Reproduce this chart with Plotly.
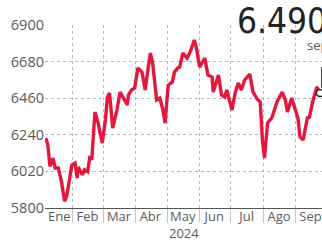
import plotly.graph_objects as go

dates = [
    "2024-01-06", "2024-01-08", "2024-01-10", "2024-01-13", "2024-01-15", "2024-01-18",
    "2024-01-21", "2024-01-24", "2024-01-26", "2024-01-29", "2024-01-31", "2024-02-03",
    "2024-02-05", "2024-02-06", "2024-02-10", "2024-02-12", "2024-02-15", "2024-02-17",
    "2024-02-19", "2024-02-22", "2024-02-25", "2024-02-29", "2024-03-03", "2024-03-05",
    "2024-03-07", "2024-03-10", "2024-03-14", "2024-03-17", "2024-03-20", "2024-03-24",
    "2024-03-25", "2024-03-28", "2024-03-31", "2024-04-03", "2024-04-07", "2024-04-10",
    "2024-04-13", "2024-04-15", "2024-04-17", "2024-04-21", "2024-04-24", "2024-04-27",
    "2024-04-29", "2024-05-02", "2024-05-06", "2024-05-08", "2024-05-11", "2024-05-13",
    "2024-05-16", "2024-05-20", "2024-05-23", "2024-05-27", "2024-05-29", "2024-06-01",
    "2024-06-06", "2024-06-09", "2024-06-13", "2024-06-14", "2024-06-19", "2024-06-22",
    "2024-06-25", "2024-06-27", "2024-06-30", "2024-07-02", "2024-07-05", "2024-07-08",
    "2024-07-11", "2024-07-14", "2024-07-19", "2024-07-22", "2024-07-26", "2024-07-29",
    "2024-07-31", "2024-08-02", "2024-08-05", "2024-08-09", "2024-08-14", "2024-08-19",
    "2024-08-22", "2024-08-24", "2024-08-28", "2024-08-31", "2024-09-03", "2024-09-05",
    "2024-09-08", "2024-09-12", "2024-09-14", "2024-09-17", "2024-09-21", "2024-09-24",
]
values = [
    6220, 6180, 6050, 6100, 6040, 6040,
    5960, 5840, 5870, 5990, 6058, 6070,
    5980, 6046, 6000, 6030, 6018, 6100,
    6090, 6377, 6311, 6190, 6329, 6467,
    6491, 6280, 6389, 6497, 6467, 6419,
    6479, 6509, 6521, 6641, 6617, 6509,
    6647, 6731, 6680, 6449, 6460, 6389,
    6311, 6539, 6557, 6617, 6641, 6647,
    6731, 6701, 6737, 6810, 6762, 6647,
    6701, 6599, 6587, 6497, 6599, 6479,
    6467, 6509, 6437, 6389, 6491, 6551,
    6509, 6569, 6605, 6500, 6455, 6437,
    6209, 6100, 6311, 6341, 6437, 6497,
    6449, 6377, 6461, 6401, 6341, 6227,
    6209, 6341, 6347, 6437, 6527, 6490.57,
]

y_ticks = [5800, 6020, 6240, 6460, 6680, 6900]
month_starts = ["2024-02-01", "2024-03-01", "2024-04-01", "2024-05-01", "2024-06-01",
                "2024-07-01", "2024-08-01", "2024-09-01"]
month_mids = ["2024-01-19", "2024-02-15", "2024-03-16", "2024-04-15", "2024-05-16",
              "2024-06-15", "2024-07-16", "2024-08-16", "2024-09-15"]
month_labels = ["Ene", "Feb", "Mar", "Abr", "May", "Jun", "Jul", "Ago", "Sep"]
last_value_text = "6.490,57"
last_date_text = "sep 24"
year_text = "2024"

RED = "#e3183d"
GRID = "#b8b8b8"
TXT = "#5a5a5a"

fig = go.Figure()
fig.add_trace(go.Scatter(
    x=dates, y=values, mode="lines",
    line=dict(color=RED, width=3.4, shape="linear"),
    hoverinfo="skip", showlegend=False,
))
fig.add_trace(go.Scatter(
    x=[dates[-1]], y=[values[-1]], mode="markers",
    marker=dict(size=7, color="white", line=dict(color="#222", width=1.5)),
    hoverinfo="skip", showlegend=False, cliponaxis=False,
))

fig.update_layout(
    width=322, height=241,
    margin=dict(l=45, r=0, t=25, b=33, autoexpand=False),
    paper_bgcolor="white", plot_bgcolor="white",
    font=dict(family="Open Sans, Arial, sans-serif", color=TXT),
    xaxis=dict(
        type="date", automargin=False,
        range=["2024-01-05 07:00", "2024-09-26 00:00"],
        tickmode="array", tickvals=month_mids, ticktext=month_labels,
        ticks="", showgrid=False, zeroline=False,
        tickfont=dict(size=13, color=TXT),
        ticklabelstandoff=-4,
        showline=True, linecolor="#555", linewidth=1,
        minor=dict(tickmode="array", tickvals=month_starts, showgrid=True,
                   gridcolor=GRID, griddash="dot", gridwidth=1,
                   ticks="outside", ticklen=14, tickcolor="#c8c8c8", tickwidth=1),
    ),
    yaxis=dict(
        range=[5800, 6900], automargin=False,
        tickmode="array", tickvals=y_ticks,
        ticks="", showgrid=True, gridcolor=GRID, griddash="dot", gridwidth=1,
        zeroline=False, showline=False,
        tickfont=dict(size=14.5, color=TXT),
        ticklabelstandoff=0,
    ),
    annotations=[
        dict(text=year_text, xref="paper", yref="paper", x=0.5, y=-0.137,
             xanchor="center", yanchor="middle", showarrow=False,
             font=dict(size=13, color=TXT)),
        dict(text=last_value_text, xref="paper", yref="paper", x=0.686, y=1.022,
             xanchor="left", yanchor="middle", showarrow=False,
             font=dict(size=35, color="#222",
                       family="Liberation Sans Narrow, DejaVu Sans Condensed, sans-serif")),
        dict(text=last_date_text, xref="paper", yref="paper", x=0.939, y=0.89,
             xanchor="left", yanchor="middle", showarrow=False,
             font=dict(size=13, color=TXT)),
    ],
    shapes=[
        dict(type="line", xref="paper", yref="paper", x0=0.998, x1=0.998,
             y0=0.656, y1=0.77, line=dict(color="#444", width=1)),
    ],
)

fig.write_html("out.html", config={"displayModeBar": False},
               post_script="document.body.style.margin='0';document.body.style.padding='0';")
